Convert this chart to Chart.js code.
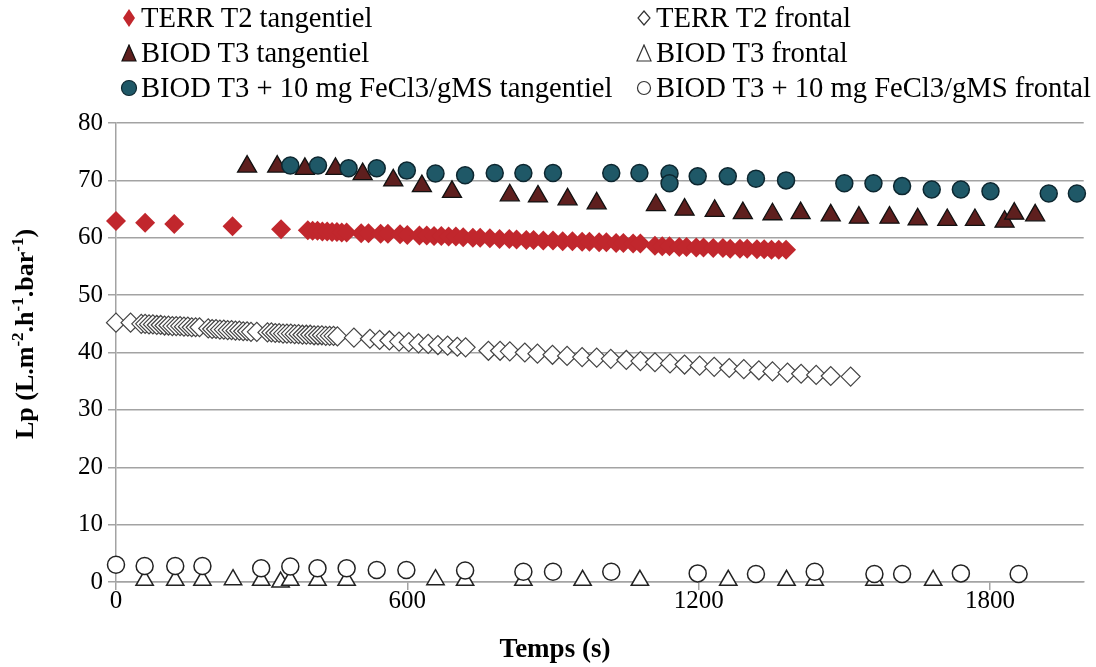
<!DOCTYPE html>
<html lang="fr">
<head>
<meta charset="utf-8">
<title>Lp en fonction du temps</title>
<script src="https://cdn.jsdelivr.net/npm/chart.js@4/dist/chart.umd.min.js"></script>
<style>
  body { margin: 0; background: #fff; }
  #cadre { position: relative; width: 1096px; height: 667px; overflow: hidden; font-family: "Liberation Serif", "Times New Roman", serif; }
  #graphique { position: absolute; left: 0; top: 0; }
  .legende { position: absolute; top: 0; display: grid; grid-template-columns: 24px auto; font-size: 28.6px; line-height: 35px; color: #000; white-space: nowrap; }
  .legende svg { align-self: center; justify-self: center; }
  #titre-x { position: absolute; top: 632px; left: 0; width: 1110px; text-align: center; font-weight: bold; font-size: 27px; line-height: 32px; }
  #titre-y { position: absolute; left: -125px; top: 318px; width: 300px; text-align: center; font-weight: bold; font-size: 26px; line-height: 32px; transform: rotate(-90deg); white-space: nowrap; }
  #titre-y sup { font-size: 17px; line-height: 0; }
</style>
</head>
<body>
<div id="cadre">
  <canvas id="graphique" width="1096" height="667"></canvas>
  <div class="legende" style="left:117px">
    <svg width="14" height="20"><polygon points="7,1 13,10 7,19 1,10" fill="#c1272d"/></svg><span>TERR T2 tangentiel</span>
    <svg width="16" height="18"><polygon points="8,1 15,17 1,17" fill="#5e1f1e" stroke="#111" stroke-width="1.2"/></svg><span>BIOD T3 tangentiel</span>
    <svg width="18" height="18"><circle cx="9" cy="9" r="7.5" fill="#1f5867" stroke="#0d2730" stroke-width="1.2"/></svg><span>BIOD T3 + 10 mg FeCl3/gMS tangentiel</span>
  </div>
  <div class="legende" style="left:632px">
    <svg width="14" height="16"><polygon points="7,1 13,8 7,15 1,8" fill="#fff" stroke="#333" stroke-width="1.2"/></svg><span>TERR T2 frontal</span>
    <svg width="16" height="18"><polygon points="8,1 15,17 1,17" fill="#fff" stroke="#333" stroke-width="1.2"/></svg><span>BIOD T3 frontal</span>
    <svg width="16" height="16"><circle cx="8" cy="8" r="6.5" fill="#fff" stroke="#333" stroke-width="1.2"/></svg><span>BIOD T3 + 10 mg FeCl3/gMS frontal</span>
  </div>
  <div id="titre-y">Lp (L.m<sup>-2</sup>.h<sup>-1</sup>.bar<sup>-1</sup>)</div>
  <div id="titre-x">Temps (s)</div>
</div>

<script>
// Temps (s) et perméabilité Lp (L.m-2.h-1.bar-1)
const tTerrTan = [0, 60, 120, 240, 340, 395, 405, 415, 425, 435, 445, 455, 465, 475, 505, 520, 545, 560, 585, 600, 625, 640, 655, 670, 685, 700, 715, 735, 750, 770, 790, 810, 825, 845, 860, 880, 900, 920, 940, 960, 975, 995, 1010, 1030, 1045, 1065, 1080, 1110, 1125, 1140, 1160, 1175, 1195, 1210, 1230, 1250, 1265, 1285, 1300, 1320, 1335, 1350, 1365, 1380];
const lpTerrTan = [62.9, 62.6, 62.4, 62.0, 61.5,
  61.3, 61.2, 61.2, 61.1, 61.1, 61.0, 61.0, 60.9, 60.9,
  60.8, 60.8, 60.7, 60.7, 60.6, 60.5, 60.4, 60.4, 60.3, 60.3, 60.2, 60.2,
  60.1, 60.0, 60.0, 59.9, 59.8, 59.8, 59.7, 59.6, 59.6, 59.5, 59.5,
  59.4, 59.4, 59.3, 59.3, 59.2, 59.2, 59.1, 59.1, 59.0, 59.0,
  58.6, 58.5, 58.5, 58.4, 58.4, 58.3, 58.3, 58.2, 58.2, 58.1, 58.1, 58.1, 58.0, 58.0, 57.9, 57.9, 57.9];

const tTerrFro = [0, 30,
  52, 60, 68, 76, 84, 92, 100, 108, 116, 124, 132, 140, 148, 156, 164, 172,
  190, 198, 206, 214, 222, 230, 238, 246, 254, 262, 270, 278, 290,
  312, 320, 328, 336, 344, 352, 360, 368, 376, 384, 392, 400, 408, 416, 424, 432, 440, 448, 456,
  490,
  523, 543, 563, 583, 603, 623, 643, 663, 683, 703, 720,
  767, 791, 811, 842, 868, 899, 929, 960, 990, 1019, 1051, 1080, 1110, 1141, 1171, 1202, 1232, 1263, 1293, 1324, 1352, 1383, 1411, 1442, 1472, 1513];
const lpTerrFro = [45.2, 45.2,
  45.0, 45.0, 44.9, 44.9, 44.8, 44.8, 44.7, 44.7, 44.6, 44.6, 44.6, 44.5, 44.5, 44.4, 44.4, 44.4,
  44.2, 44.1, 44.1, 44.0, 44.0, 43.9, 43.9, 43.8, 43.8, 43.7, 43.7, 43.6, 43.6,
  43.5, 43.5, 43.4, 43.4, 43.3, 43.3, 43.3, 43.2, 43.2, 43.1, 43.1, 43.1, 43.0, 43.0, 43.0, 42.9, 42.9, 42.9, 42.8,
  42.6,
  42.4, 42.2, 42.1, 41.9, 41.8, 41.6, 41.5, 41.3, 41.2, 41.0, 40.9,
  40.3, 40.3, 40.2, 40.0, 39.8, 39.6, 39.4, 39.2, 39.1, 38.9, 38.7, 38.5, 38.3, 38.1, 37.9, 37.7, 37.5, 37.3, 37.1, 36.9, 36.7, 36.5, 36.3, 36.1, 35.9, 35.8];

const tBiodTan = [270, 332, 389, 452, 508, 571, 630, 692, 811, 869, 930, 990, 1112, 1171, 1233, 1291, 1352, 1410, 1472, 1530, 1593, 1651, 1712, 1769, 1830, 1850, 1893];
const lpBiodTan = [72.4, 72.4, 72.0, 72.0, 71.1, 70.0, 69.0, 68.0, 67.4, 67.2, 66.7, 66.0, 65.7, 64.9, 64.7, 64.3, 64.1, 64.3, 63.9, 63.5, 63.5, 63.2, 63.1, 63.1, 62.8, 64.2, 63.9];

const tBiodFro = [59, 122, 178, 241, 299, 339, 359, 415, 475, 658, 719, 839, 961, 1079, 1261, 1381, 1439, 1562, 1683];
const lpBiodFro = [0.3, 0.3, 0.3, 0.4, 0.3, 0.0, 0.3, 0.3, 0.3, 0.4, 0.3, 0.3, 0.3, 0.3, 0.3, 0.3, 0.3, 0.3, 0.3];

const tFeTan = [359, 416, 479, 537, 599, 658, 719, 780, 839, 900, 1020, 1078, 1140, 1140, 1198, 1260, 1318, 1380, 1500, 1560, 1619, 1680, 1740, 1801, 1921, 1979];
const lpFeTan = [72.6, 72.6, 72.1, 72.1, 71.7, 71.2, 70.9, 71.3, 71.3, 71.3, 71.3, 71.3, 71.2, 69.5, 70.7, 70.7, 70.3, 70.0, 69.5, 69.5, 69.0, 68.4, 68.4, 68.1, 67.7, 67.7];

const tFeFro = [0, 59, 122, 178, 299, 359, 415, 475, 537, 598, 719, 839, 900, 1020, 1198, 1318, 1439, 1562, 1619, 1740, 1859];
const lpFeFro = [3.0, 2.8, 2.8, 2.8, 2.4, 2.7, 2.4, 2.4, 2.1, 2.1, 2.0, 1.8, 1.8, 1.8, 1.5, 1.4, 1.8, 1.4, 1.4, 1.5, 1.4];

const ticksX = [0, 600, 1200, 1800];
const couleurGrille = '#a3a3a3';
const police = '"Liberation Serif", "Times New Roman", serif';

const points = (t, lp) => t.map((v, i) => ({ x: v, y: lp[i] }));

// ordre : les séries du bas de la légende passent par-dessus
const series = [
  { label: 'TERR T2 tangentiel', data: points(tTerrTan, lpTerrTan), pointStyle: 'rectRot', pointRadius: 10, backgroundColor: '#c1272d', borderColor: '#c1272d', borderWidth: 0, order: 6 },
  { label: 'TERR T2 frontal', data: points(tTerrFro, lpTerrFro), pointStyle: 'rectRot', pointRadius: 9.5, backgroundColor: '#fff', borderColor: '#444', borderWidth: 1.2, order: 5 },
  { label: 'BIOD T3 tangentiel', data: points(tBiodTan, lpBiodTan), pointStyle: 'triangle', pointRadius: 11, backgroundColor: '#5e1f1e', borderColor: '#111', borderWidth: 1.3, order: 4 },
  { label: 'BIOD T3 frontal', data: points(tBiodFro, lpBiodFro), pointStyle: 'triangle', pointRadius: 10, backgroundColor: '#fff', borderColor: '#222', borderWidth: 1.5, order: 3 },
  { label: 'BIOD T3 + 10 mg FeCl3/gMS tangentiel', data: points(tFeTan, lpFeTan), pointStyle: 'circle', pointRadius: 8.5, backgroundColor: '#1f5867', borderColor: '#0d2730', borderWidth: 1.5, order: 2 },
  { label: 'BIOD T3 + 10 mg FeCl3/gMS frontal', data: points(tFeFro, lpFeFro), pointStyle: 'circle', pointRadius: 8.5, backgroundColor: '#fff', borderColor: '#222', borderWidth: 1.5, order: 1 }
].map(s => ({ ...s, clip: false, pointHoverRadius: s.pointRadius }));

new Chart(document.getElementById('graphique'), {
  type: 'scatter',
  data: { datasets: series },
  options: {
    responsive: false,
    animation: false,
    devicePixelRatio: 1,
    layout: { padding: { top: 123, right: 0, bottom: 0, left: 0 } },
    plugins: { legend: { display: false }, tooltip: { enabled: false } },
    scales: {
      x: {
        type: 'linear', min: 0, max: 1993,
        ticks: { stepSize: 600, color: '#000', font: { family: police, size: 25 }, padding: -4, maxRotation: 0, callback: v => String(v) },
        afterBuildTicks: s => { s.ticks = ticksX.map(v => ({ value: v })); },
        afterFit: s => { s.height = 85; },
        grid: { drawOnChartArea: false, drawTicks: true, tickLength: 8, color: couleurGrille, lineWidth: 1.5 },
        border: { color: couleurGrille, width: 1.5 }
      },
      y: {
        min: 0, max: 80,
        ticks: { stepSize: 10, color: '#000', font: { family: police, size: 25 }, padding: 5 },
        afterFit: s => { s.width = 116; },
        grid: { color: couleurGrille, lineWidth: 1.5, tickLength: 8 },
        border: { color: couleurGrille, width: 1.5 }
      }
    }
  }
});
</script>
</body>
</html>
